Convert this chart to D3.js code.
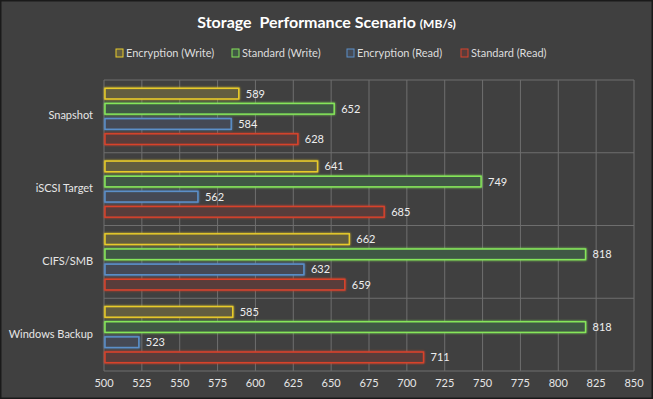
<!DOCTYPE html>
<html>
<head>
<meta charset="utf-8">
<script src="https://cdn.jsdelivr.net/npm/d3@7"></script>
<style>
  html, body { margin: 0; padding: 0; background: #404040; }
  svg { display: block; font-family: Lato, "Open Sans", sans-serif; }
</style>
</head>
<body>
<svg id="canvas"></svg>
<script>
// chart data
let categories = ['Snapshot', 'iSCSI Target', 'CIFS/SMB', 'Windows Backup']
let seriesNames = ['Encryption (Write)', 'Standard (Write)', 'Encryption (Read)', 'Standard (Read)']
let encWrite = [589, 641, 662, 585]
let stdWrite = [652, 749, 818, 818]
let encRead = [584, 562, 632, 523]
let stdRead = [628, 685, 659, 711]
let ticks = [500, 525, 550, 575, 600, 625, 650, 675, 700, 725, 750, 775, 800, 825, 850]

let seriesValues = [encWrite, stdWrite, encRead, stdRead]
let strokes = ['#e8cb2a', '#86e65a', '#5b8fc9', '#d8432c']
let fills = ['#625d40', '#405945', '#454a54', '#583c3a']

let width = 653
let height = 399
let margin = {top: 80, right: 19, bottom: 28, left: 104}

let svg = d3.select('#canvas')
  .attr('width', width)
  .attr('height', height)

svg.append('rect')
  .attr('x', 0.5).attr('y', 0.5)
  .attr('width', width - 1).attr('height', height - 1)
  .attr('fill', '#404040')
  .attr('stroke', '#1a1a1a')
  .attr('stroke-width', 2)

let defs = svg.append('defs')
let glow = defs.append('filter').attr('id', 'glow')
  .attr('x', '-10%').attr('y', '-50%').attr('width', '120%').attr('height', '200%')
glow.append('feGaussianBlur').attr('stdDeviation', 1.2).attr('result', 'b')
let merge = glow.append('feMerge')
merge.append('feMergeNode').attr('in', 'b')
merge.append('feMergeNode').attr('in', 'SourceGraphic')

let x = d3.scaleLinear()
  .domain([500, 850])
  .range([margin.left, width - margin.right])

let y = d3.scaleBand()
  .domain(categories)
  .range([margin.top, height - margin.bottom])

let inner = d3.scaleBand()
  .domain(d3.range(seriesNames.length))
  .range([0, y.bandwidth()])
  .paddingInner(0.3)
  .paddingOuter(0.55)

// gridlines
let grid = svg.append('g')
grid.selectAll('line.v')
  .data(ticks)
  .enter()
  .append('line')
  .attr('x1', d => x(d)).attr('x2', d => x(d))
  .attr('y1', margin.top).attr('y2', height - margin.bottom)
  .attr('stroke', '#6e6e6e')
  .attr('stroke-width', 1)

grid.selectAll('line.h')
  .data(categories.concat(['end']))
  .enter()
  .append('line')
  .attr('x1', margin.left).attr('x2', width - margin.right)
  .attr('y1', (d, i) => i < categories.length ? y(d) : height - margin.bottom)
  .attr('y2', (d, i) => i < categories.length ? y(d) : height - margin.bottom)
  .attr('stroke', '#6e6e6e')
  .attr('stroke-width', 1)

// bars
let bars = []
categories.forEach((c, ci) => {
  seriesValues.forEach((vals, si) => {
    bars.push({cat: c, s: si, value: vals[ci]})
  })
})

let block = svg.append('g').selectAll('g')
  .data(bars)
  .enter()
  .append('g')
  .attr('transform', d => 'translate(0,' + (y(d.cat) + inner(d.s)) + ')')

block.append('rect')
  .attr('x', x(500) + 1)
  .attr('y', 0)
  .attr('width', d => x(d.value) - x(500) - 1)
  .attr('height', inner.bandwidth())
  .attr('fill', d => fills[d.s])
  .attr('stroke', d => strokes[d.s])
  .attr('stroke-width', 1.5)
  .attr('filter', 'url(#glow)')

block.append('text')
  .attr('x', d => x(d.value) + 7)
  .attr('y', inner.bandwidth() / 2)
  .attr('dy', '0.36em')
  .attr('fill', '#eeeeee')
  .attr('font-size', 11)
  .text(d => d.value)

// axes labels
svg.append('g').selectAll('text')
  .data(ticks)
  .enter()
  .append('text')
  .attr('x', d => x(d))
  .attr('y', height - 12)
  .attr('text-anchor', 'middle')
  .attr('fill', '#e6e6e6')
  .attr('font-size', 11)
  .text(d => d)

svg.append('g').selectAll('text')
  .data(categories)
  .enter()
  .append('text')
  .attr('x', margin.left - 11)
  .attr('y', d => y(d) + y.bandwidth() / 2 - 1)
  .attr('dy', '0.36em')
  .attr('text-anchor', 'end')
  .attr('fill', '#e6e6e6')
  .attr('font-size', 11)
  .text(d => d)

// title
let title = svg.append('text')
  .attr('x', width / 2)
  .attr('y', 28)
  .attr('text-anchor', 'middle')
  .attr('fill', '#ffffff')
  .attr('font-weight', 'bold')
  .attr('font-size', 16)
  .style('white-space', 'pre')
title.append('tspan').text('Storage  Performance Scenario ')
title.append('tspan').attr('font-size', 12).text('(MB/s)')

// legend
let legendX = [116, 232, 347, 461]
let legend = svg.append('g').selectAll('g')
  .data(seriesNames)
  .enter()
  .append('g')
  .attr('transform', (d, i) => 'translate(' + legendX[i] + ',53)')

legend.append('rect')
  .attr('x', 0).attr('y', -4)
  .attr('width', 7).attr('height', 8)
  .attr('fill', (d, i) => fills[i])
  .attr('stroke', (d, i) => strokes[i])
  .attr('stroke-width', 1)

legend.append('text')
  .attr('x', 10)
  .attr('dy', '0.36em')
  .attr('fill', '#dddddd')
  .attr('font-size', 11)
  .text(d => d)
</script>
</body>
</html>
